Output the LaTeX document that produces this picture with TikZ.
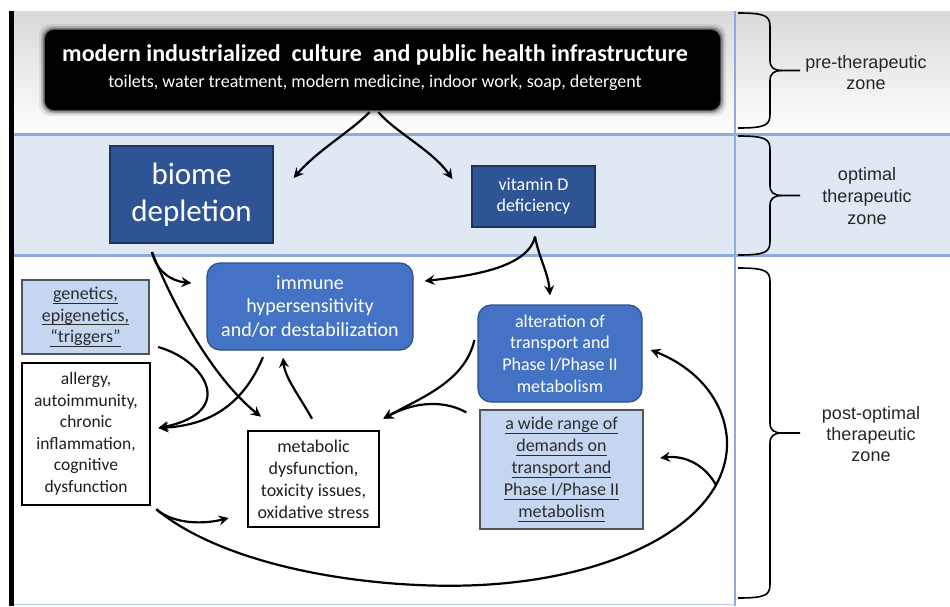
\documentclass[tikz,border=0pt]{standalone}
\usepackage{fontspec}
\setmainfont{Carlito}
\newfontfamily\arialf{Liberation Sans}
\usetikzlibrary{arrows.meta,calc}
\definecolor{dblue}{RGB}{46,84,150}
\definecolor{dbord}{RGB}{30,52,95}
\definecolor{mblue}{RGB}{68,114,196}
\definecolor{mbord}{RGB}{45,78,140}
\definecolor{lblue}{RGB}{196,214,240}
\definecolor{lbord}{RGB}{80,85,95}
\definecolor{sepblue}{RGB}{143,170,220}
\definecolor{midband}{RGB}{224,232,244}
\definecolor{txtgray}{RGB}{45,45,45}
\newcommand\myul[1]{\setbox0\hbox{#1}\rlap{\rule[-3.6pt]{\wd0}{0.9pt}}\box0}
\newcommand\zonebrace[2]{%
 \draw[brc] (738,#1) .. controls (766,#1) and (770,{#1+3}) .. (770,{#1+14})
   -- (770,{(#1+#2)/2-10}) .. controls (770,{(#1+#2)/2-3}) and (774,{(#1+#2)/2}) .. (782,{(#1+#2)/2}) -- (800,{(#1+#2)/2});
 \draw[brc] (738,#2) .. controls (766,#2) and (770,{#2-3}) .. (770,{#2-14})
   -- (770,{(#1+#2)/2+10}) .. controls (770,{(#1+#2)/2+3}) and (774,{(#1+#2)/2}) .. (782,{(#1+#2)/2});
}
\begin{document}
\begin{tikzpicture}[x=1pt,y=-1pt,
  dbox/.style={draw=dbord, fill=dblue, text=white, line width=1.2pt, align=center, inner sep=0pt},
  mbox/.style={draw=mbord, fill=mblue, text=white, line width=1.2pt, rounded corners=13pt, align=center, inner sep=0pt},
  lbox/.style={draw=lbord, fill=lblue, text=txtgray, line width=1.3pt, align=center, inner sep=0pt},
  wbox/.style={draw=black, fill=white, text=black!88, line width=2.6pt, align=center, inner sep=0pt},
  arr/.style={line width=2.2pt, -{Stealth[length=10pt,width=10pt,inset=3.5pt]}},
  brc/.style={line width=1.6pt, black},
  zlab/.style={font=\arialf\fontsize{18}{21}\selectfont, align=center, text=black!85},
  topbox/.style={fill=black, rounded corners=9pt, inner sep=0pt}
]
\useasboundingbox (0,0) rectangle (950,606);
\fill[white] (0,0) rectangle (950,606);
\shade[top color=gray!30, bottom color=white] (9,11) rectangle (950,134);
\fill[midband] (9,134) rectangle (950,255);
\fill[black] (9,11) rectangle (14,606);
\draw[sepblue, line width=3pt] (14,134) -- (950,134);
\draw[sepblue, line width=3pt] (14,255.5) -- (950,255.5);
\draw[sepblue, line width=1.5pt] (735,11) -- (735,606);
\draw[sepblue!60, line width=1pt] (14,604) -- (735,604);

% soft edge of the black box
\foreach \g/\o in {6/0.08,4/0.14,2.5/0.25,1.2/0.4}{
  \fill[black, opacity=\o, rounded corners=11pt] ({45-\g},{30-\g}) rectangle ({720+\g},{110+\g});
}
\node[topbox, minimum width=675pt, minimum height=80pt] (top) at (382.5,70) {};
\node[text=white, inner sep=0pt, font=\bfseries\fontsize{24}{28}\selectfont] (title) at (375,55)
  {modern industrialized\ \ culture\ \ and public health infrastructure};
\node[text=white, inner sep=0pt, font=\fontsize{18}{21}\selectfont] (subtitle) at (375,83)
  {toilets, water treatment, modern medicine, indoor work, soap, detergent};

% zone braces and labels
\zonebrace{13}{128}
\zonebrace{136}{255}
\zonebrace{268}{598}
\node[zlab] (z1) at (866,73) {pre-therapeutic\\zone};
\node[zlab, font=\arialf\fontsize{18}{22}\selectfont] (z2) at (867,196) {optimal\\therapeutic\\zone};
\node[zlab] (z3) at (871,434) {post-optimal\\therapeutic\\zone};

% boxes
\node[dbox, minimum width=163pt, minimum height=97pt, font=\fontsize{31}{37}\selectfont] (biome) at (191.5,194.5) {biome\\depletion};
\node[dbox, minimum width=123pt, minimum height=61pt, font=\fontsize{18}{21.5}\selectfont] (vitd) at (533.5,196.5) {vitamin D\\deficiency};
\node[mbox, minimum width=206pt, minimum height=87pt, font=\fontsize{20}{23.5}\selectfont] (immune) at (310,306.5) {immune\\hypersensitivity\\and/or destabilization};
\node[lbox, minimum width=127pt, minimum height=74pt, font=\fontsize{18}{21.5}\selectfont] (genetics) at (85.5,317) {\myul{genetics,}\\\myul{epigenetics,}\\\myul{“triggers”}};
\node[wbox, minimum width=128pt, minimum height=142pt, font=\fontsize{17.5}{21.5}\selectfont] (allergy) at (86,434) {allergy,\\autoimmunity,\\chronic\\inflammation,\\cognitive\\dysfunction};
\node[wbox, minimum width=131pt, minimum height=96pt, font=\fontsize{18}{22}\selectfont] (metabolic) at (313.5,479) {metabolic\\dysfunction,\\toxicity issues,\\oxidative stress};
\node[mbox, minimum width=164pt, minimum height=97pt, font=\fontsize{18}{21.7}\selectfont] (alteration) at (560,353.5) {alteration of\\transport and\\Phase I/Phase II\\metabolism};
\node[lbox, minimum width=163pt, minimum height=119pt, font=\fontsize{18}{22}\selectfont] (widerange) at (561.5,469.5) {\myul{a wide range of}\\\myul{demands on}\\\myul{transport and}\\\myul{Phase I/Phase II}\\\myul{metabolism}};

% connectors
\draw[arr] ($(top.south)+(-13,2)$) .. controls (350,132) and (318,150) .. ($(biome.east)+(20,-16.5)$);
\draw[arr] ($(top.south)+(-4,2)$) .. controls (395,132) and (432,150) .. ($(vitd.west)+(-19,-17.5)$);
\draw[arr] ($(biome.south)+(-39.5,8.5)$) .. controls (156,270) and (170,281) .. ($(immune.west)+(-15,-23.5)$);
\draw[arr] ($(biome.south)+(-39.5,8.5)$) .. controls (175,310) and (215,380) .. ($(metabolic.north)+(-52.5,-13)$);
\draw[arr] ($(genetics.east)+(8.5,30)$) .. controls (205,360) and (238,412) .. ($(allergy.east)+(7,-6)$);
\draw[arr] ($(immune.south)+(-47,6.5)$) .. controls (245,400) and (215,425) .. ($(allergy.east)+(7,-6)$);
\draw[arr] ($(metabolic.north)+(-1.5,-11)$) .. controls (300,397) and (285,378) .. ($(immune.south)+(-27,7)$);
\draw[arr] ($(vitd.south)+(1.5,9)$) .. controls (528,268) and (470,276) .. ($(immune.east)+(11,-25.5)$);
\draw[arr] ($(vitd.south)+(1.5,9)$) .. controls (539,258) and (548,272) .. ($(alteration.north)+(-10,-9)$);
\draw[arr] ($(alteration.west)+(-3,-13.5)$) .. controls (465,382) and (420,398) .. ($(metabolic.north east)+(3,-11)$);
\draw[arr] ($(widerange.north west)+(-13,3)$) .. controls (440,398) and (410,404) .. ($(metabolic.north east)+(3,-11)$);
\draw[arr] ($(allergy.south east)+(5,3)$) .. controls (175,525) and (205,524) .. ($(metabolic.west)+(-18,39)$);
\draw[arr] ($(allergy.south east)+(5,3)$) .. controls (230,570) and (380,590) .. (480,585)
   .. controls (620,578) and (730,520) .. (727,440)
   .. controls (724,395) and (690,365) .. ($(alteration.east)+(8,-3.5)$);
\coordinate (loopjoin) at (716,485);
\draw[arr] (loopjoin) .. controls (705,465) and (685,455) .. ($(widerange.east)+(16.5,-11.5)$);
\end{tikzpicture}
\end{document}
